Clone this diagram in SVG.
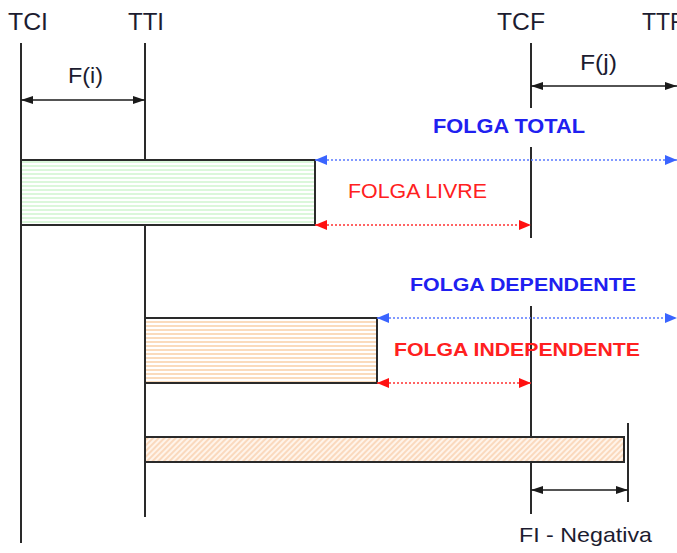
<svg xmlns="http://www.w3.org/2000/svg" width="677" height="553" viewBox="0 0 677 553">
<style>
.ln{stroke:#2a2a2a;stroke-width:2;fill:none}
.lbl{font-family:"Liberation Sans",Arial,sans-serif;fill:#1c1c30}
.blue{font-family:"Liberation Sans",Arial,sans-serif;font-weight:bold;fill:#2020f0}
.red{font-family:"Liberation Sans",Arial,sans-serif;fill:#ff2020}
.dimk{stroke:#1a1a1a;stroke-width:1.6;fill:none;marker-start:url(#ak);marker-end:url(#ak)}
.dimb{stroke:#5a7aff;stroke-width:1.5;stroke-dasharray:2 2;fill:none;marker-start:url(#ab);marker-end:url(#ab)}
.dimr{stroke:#ff3030;stroke-width:1.5;stroke-dasharray:2 2;fill:none;marker-start:url(#ar);marker-end:url(#ar)}
.box{stroke:#2a2a2a;stroke-width:2}
</style>
<defs>
<marker id="ak" viewBox="0 0 12 8" refX="12" refY="4" markerWidth="12" markerHeight="8" markerUnits="userSpaceOnUse" orient="auto-start-reverse"><path d="M0,0 L12,4 L0,8 Z" fill="#1a1a1a"/></marker>
<marker id="ab" viewBox="0 0 12 10" refX="12" refY="5" markerWidth="12" markerHeight="10" markerUnits="userSpaceOnUse" orient="auto-start-reverse"><path d="M0,0 L12,5 L0,10 Z" fill="#3a64ff"/></marker>
<marker id="ar" viewBox="0 0 12 10" refX="12" refY="5" markerWidth="12" markerHeight="10" markerUnits="userSpaceOnUse" orient="auto-start-reverse"><path d="M0,0 L12,5 L0,10 Z" fill="#ff1010"/></marker>
<pattern id="hg" width="8" height="4" patternUnits="userSpaceOnUse"><rect width="8" height="4" fill="#fff"/><line x1="0" y1="2" x2="8" y2="2" stroke="#b8f0b8" stroke-width="1"/></pattern>
<pattern id="ho" width="8" height="4" patternUnits="userSpaceOnUse"><rect width="8" height="4" fill="#fff"/><line x1="0" y1="2" x2="8" y2="2" stroke="#f8c490" stroke-width="1.2"/></pattern>
<pattern id="hd" width="4" height="4" patternUnits="userSpaceOnUse" patternTransform="rotate(-45)"><rect width="4" height="4" fill="#fff4ea"/><line x1="0" y1="2" x2="4" y2="2" stroke="#f8c8a0" stroke-width="1.2"/></pattern>
</defs>

<g id="axes">
<line class="ln" x1="21" y1="43" x2="21" y2="543"/>
<line class="ln" x1="145" y1="43" x2="145" y2="517"/>
<line class="ln" x1="531" y1="43" x2="531" y2="108"/>
<line class="ln" x1="531" y1="147" x2="531" y2="238"/>
<line class="ln" x1="531" y1="306" x2="531" y2="514"/>
<line class="ln" x1="628" y1="423" x2="628" y2="502"/>
</g>

<g id="labels">
<text class="lbl" x="8" y="30" font-size="23" textLength="40" lengthAdjust="spacingAndGlyphs">TCI</text>
<text class="lbl" x="128" y="30" font-size="23" textLength="36" lengthAdjust="spacingAndGlyphs">TTI</text>
<text class="lbl" x="497" y="30" font-size="23" textLength="48" lengthAdjust="spacingAndGlyphs">TCF</text>
<text class="lbl" x="642" y="30" font-size="23">TTR</text>
<text class="lbl" x="68" y="83" font-size="22" textLength="35" lengthAdjust="spacingAndGlyphs">F(i)</text>
<text class="lbl" x="580" y="70" font-size="22" textLength="37" lengthAdjust="spacingAndGlyphs">F(j)</text>
<text class="lbl" x="519" y="542" font-size="21" textLength="133" lengthAdjust="spacingAndGlyphs">FI - Negativa</text>
</g>

<g id="box1"><rect class="box" x="21" y="160" width="294" height="65" fill="url(#hg)"/></g>
<g id="box2"><rect class="box" x="145" y="318" width="232" height="65" fill="url(#ho)"/></g>
<g id="box3"><rect class="box" x="145" y="437" width="479" height="25" fill="url(#hd)"/></g>

<g id="connectors">
<line class="dimk" x1="21" y1="100" x2="145" y2="100"/>
<line class="dimk" x1="531" y1="86" x2="677" y2="86"/>
<line class="dimb" x1="315" y1="160" x2="677" y2="160"/>
<line class="dimr" x1="315" y1="225" x2="531" y2="225"/>
<line class="dimb" x1="377" y1="318" x2="677" y2="318"/>
<line class="dimr" x1="377" y1="383" x2="531" y2="383"/>
<line class="dimk" x1="531" y1="490" x2="628" y2="490"/>
</g>

<g id="folga-labels">
<text class="blue" x="433" y="133" font-size="19.5" textLength="152" lengthAdjust="spacingAndGlyphs">FOLGA TOTAL</text>
<text class="red" x="348" y="198" font-size="19.5" textLength="139" lengthAdjust="spacingAndGlyphs">FOLGA LIVRE</text>
<text class="blue" x="410" y="291" font-size="19" textLength="226" lengthAdjust="spacingAndGlyphs">FOLGA DEPENDENTE</text>
<text class="red" x="394" y="356" font-size="19" font-weight="bold" textLength="246" lengthAdjust="spacingAndGlyphs">FOLGA INDEPENDENTE</text>
</g>
</svg>
